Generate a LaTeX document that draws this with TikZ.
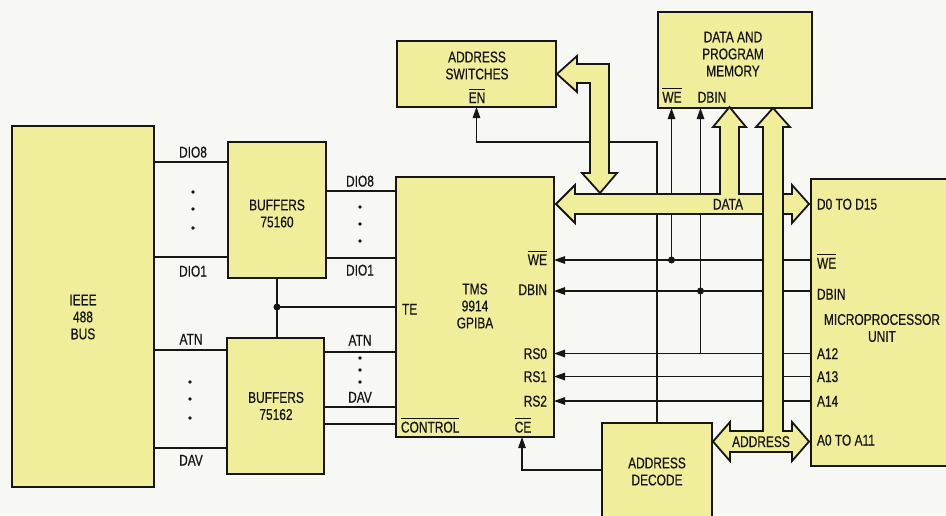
\documentclass[tikz,border=0pt]{standalone}
\usepackage{fontspec}
\setmainfont{Liberation Sans}[FakeStretch=0.77,FakeBold=0.6]
\usetikzlibrary{arrows.meta}
\definecolor{boxyellow}{RGB}{241,238,155}
\definecolor{ink}{RGB}{22,22,22}
\definecolor{paper}{RGB}{247,247,244}
\newcommand{\ovl}[1]{\vbox{\hrule height 1.2pt\kern 2.4pt\hbox{#1}}}
\begin{document}
\begin{tikzpicture}[x=1pt,y=-1pt,
  blk/.style={draw=ink, line width=2.3pt, fill=boxyellow, inner sep=0pt, outer sep=0pt, anchor=north west},
  txt/.style={font=\fontsize{15.5}{17}\selectfont, text=ink, inner sep=0pt, outer sep=0pt, align=center},
  sig/.style={draw=ink, line width=1.25pt},
  arr/.style={sig, -{Triangle[length=11pt,width=7.5pt]}},
  bus/.style={draw=ink, line width=1.8pt, fill=boxyellow, line join=miter},
  jdot/.style={circle, fill=ink, inner sep=0pt, minimum size=7pt},
]
\fill[paper] (0,0) rectangle (946,515);
\useasboundingbox (0,0) rectangle (946,515);
\clip (0,0) rectangle (946,515);

% helper coordinates
\coordinate (yL1) at (0,162);
\coordinate (yL2) at (0,257);
\coordinate (yL3) at (0,350);
\coordinate (yL4) at (0,448);
\coordinate (yR1) at (0,191);
\coordinate (yR2) at (0,258);
\coordinate (yR3) at (0,352);
\coordinate (yR4) at (0,407);
\coordinate (yCT) at (0,424);
\coordinate (yWE) at (0,260);
\coordinate (yDB) at (0,291);
\coordinate (yA12) at (0,353.5);
\coordinate (yA13) at (0,376.5);
\coordinate (yA14) at (0,401);
\coordinate (yEN) at (0,142);
\coordinate (yCE) at (0,470);
\coordinate (xV1) at (657,0);
\coordinate (xCE) at (522,0);

% boxes
\node[blk, minimum width=142pt, minimum height=361pt] (ieee) at (12,126) {};
\node[blk, minimum width=98pt, minimum height=136pt] (b1) at (228,142) {};
\node[blk, minimum width=97pt, minimum height=136pt] (b2) at (227,338) {};
\node[blk, minimum width=158pt, minimum height=260pt] (tms) at (396,177) {};
\node[blk, minimum width=159pt, minimum height=66pt] (asw) at (397,41) {};
\node[blk, minimum width=154pt, minimum height=96pt] (mem) at (658,12) {};
\node[blk, minimum width=160pt, minimum height=287pt] (mpu) at (811,179) {};
\node[blk, minimum width=110pt, minimum height=110pt] (adec) at (602,423) {};

% box texts
\node[txt] (ieeeT) at (83,317) {IEEE\\488\\BUS};
\node[txt] (b1T) at (277,213.5) {BUFFERS\\75160};
\node[txt] (b2T) at (276,406) {BUFFERS\\75162};
\node[txt] (tmsT) at (475,306) {TMS\\9914\\GPIBA};
\node[txt] (aswT) at (477,65.5) {ADDRESS\\SWITCHES};
\node[txt, anchor=base] (aswEN) at (477,103) {\ovl{EN}};
\node[txt] (memT) at (733,54) {DATA AND\\PROGRAM\\MEMORY};
\node[txt, anchor=base] (memWE) at (672,102.5) {\ovl{WE}};
\node[txt, anchor=base] (memDB) at (712,102.5) {DBIN};
\node[txt] (mpuT) at (882,328) {MICROPROCESSOR\\UNIT};
\node[txt] (adecT) at (657,471.5) {ADDRESS\\DECODE};

% TMS pins
\node[txt, anchor=base west] (tTE) at (402,314.5) {TE};
\node[txt, anchor=base west] (tCT) at (401,432.5) {\ovl{CONTROL}};
\node[txt, anchor=base] (tCE) at (523,432.5) {\ovl{CE}};
\node[txt, anchor=base east] (tWE) at (547,265) {\ovl{WE}};
\node[txt, anchor=base east] (tDB) at (547,295) {DBIN};
\node[txt, anchor=base east] (tR0) at (547,359) {RS0};
\node[txt, anchor=base east] (tR1) at (547,382) {RS1};
\node[txt, anchor=base east] (tR2) at (547,406.5) {RS2};

% MPU pins
\node[txt, anchor=base west] (mD) at (817,209.5) {D0 TO D15};
\node[txt, anchor=base west] (mWE) at (817,268.5) {\ovl{WE}};
\node[txt, anchor=base west] (mDB) at (817,299.5) {DBIN};
\node[txt, anchor=base west] (mA12) at (817,359) {A12};
\node[txt, anchor=base west] (mA13) at (817,382) {A13};
\node[txt, anchor=base west] (mA14) at (817,406.5) {A14};
\node[txt, anchor=base west] (mA0) at (817,445.5) {A0 TO A11};

% wire labels
\node[txt, anchor=base] (lD8a) at (193,157.5) {DIO8};
\node[txt, anchor=base] (lD1a) at (193,276.5) {DIO1};
\node[txt, anchor=base] (lATa) at (191,344.5) {ATN};
\node[txt, anchor=base] (lDVa) at (191,465.5) {DAV};
\node[txt, anchor=base] (lD8b) at (360,186.5) {DIO8};
\node[txt, anchor=base] (lD1b) at (360,275.5) {DIO1};
\node[txt, anchor=base] (lATb) at (360,345.5) {ATN};
\node[txt, anchor=base] (lDVb) at (360,402.5) {DAV};

\foreach \yy in {192,209,228} \fill[ink] (193,\yy) circle (1.8pt);
\foreach \yy in {207,224,241} \fill[ink] (360,\yy) circle (1.8pt);
\foreach \yy in {382,399,418} \fill[ink] (190,\yy) circle (1.8pt);
\foreach \yy in {358,370,382} \fill[ink] (360,\yy) circle (1.8pt);

% junctions
\node[jdot] (jTE) at (277,307) {};
\node[jdot] (jWE) at (671.5,260) {};
\node[jdot] (jDB) at (700.5,291) {};

% left wires
\draw[sig] (ieee.east |- yL1) -- (b1.west |- yL1);
\draw[sig] (ieee.east |- yL2) -- (b1.west |- yL2);
\draw[sig] (ieee.east |- yL3) -- (b2.west |- yL3);
\draw[sig] (ieee.east |- yL4) -- (b2.west |- yL4);
\draw[sig] (b1.east |- yR1) -- (tms.west |- yR1);
\draw[sig] (b1.east |- yR2) -- (tms.west |- yR2);
\draw[sig] (b1.south -| jTE) -- (b2.north -| jTE);
\draw[sig] (jTE.center) -- (tms.west |- jTE);
\draw[sig] (b2.east |- yR3) -- (tms.west |- yR3);
\draw[sig] (b2.east |- yR4) -- (tms.west |- yR4);
\draw[sig] (b2.east |- yCT) -- (tms.west |- yCT);

% right wires
\draw[arr] (mpu.west |- yWE) -- (tms.east |- yWE);
\draw[arr] (mpu.west |- yDB) -- (tms.east |- yDB);
\draw[arr] (mpu.west |- yA12) -- (tms.east |- yA12);
\draw[arr] (mpu.west |- yA13) -- (tms.east |- yA13);
\draw[arr] (mpu.west |- yA14) -- (tms.east |- yA14);
\draw[arr] (jWE.center) -- (jWE |- mem.south);
\draw[arr] (jDB |- yA12) -- (jDB |- mem.south);
\draw[arr] (adec.north -| xV1) |- (asw.south |- yEN) -- (asw.south);
\draw[arr] (adec.west |- yCE) -| (tms.south -| xCE);

% buses
\draw[bus] (556,204) -- (575,185) -- (575,194) -- (720,194) -- (720,127) -- (713,127)
  -- (729.5,107) -- (746,127) -- (739,127) -- (739,194) -- (792,194) -- (792,185)
  -- (809,204) -- (792,223) -- (792,214) -- (575,214) -- (575,223) -- cycle;
\draw[bus] (557,74) -- (577,56) -- (577,64) -- (609,64) -- (609,173) -- (617,173)
  -- (600,193) -- (582,173) -- (590,173) -- (590,83) -- (577,83) -- (577,92) -- cycle;
\draw[bus] (773,108) -- (790,127) -- (783,127) -- (783,431) -- (792,431) -- (792,422)
  -- (809,441.5) -- (792,461) -- (792,452) -- (730,452) -- (730,461) -- (713,441.5)
  -- (730,422) -- (730,431) -- (763,431) -- (763,127) -- (756,127) -- cycle;

\node[txt, anchor=base] (busD) at (728,209.5) {DATA};
\node[txt, anchor=base] (busA) at (761,447) {ADDRESS};
\end{tikzpicture}
\end{document}
